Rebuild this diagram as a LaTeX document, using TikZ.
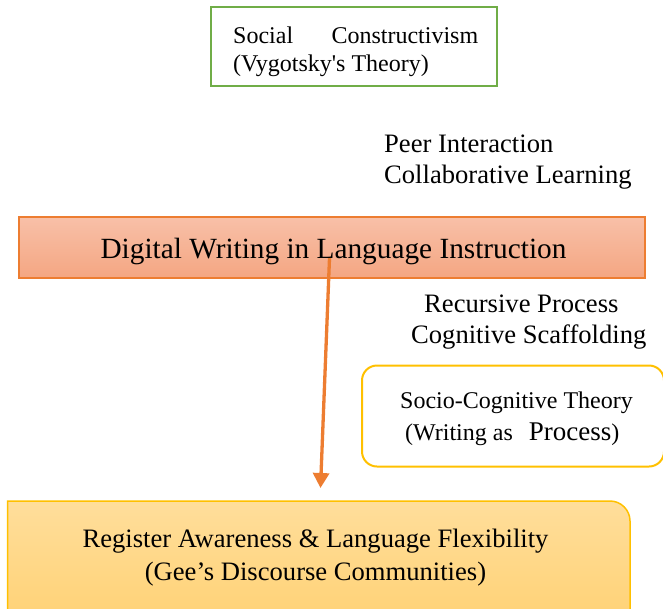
\documentclass[tikz,border=0pt]{standalone}
\usepackage{fontspec}
\setmainfont{Liberation Serif}[Ligatures=TeXOff]
\usetikzlibrary{arrows.meta}
\definecolor{grn}{HTML}{70AD47}
\definecolor{orn}{HTML}{ED7D31}
\definecolor{salmtop}{RGB}{248,192,168}
\definecolor{salmbot}{RGB}{244,166,130}
\definecolor{gold}{HTML}{FFC000}
\definecolor{goldtop}{RGB}{255,222,155}
\definecolor{goldbot}{RGB}{255,208,112}

\begin{document}
\begin{tikzpicture}[x=1pt,y=-1pt,
  txt/.style={inner sep=0pt, anchor=base west},
  txtc/.style={inner sep=0pt, anchor=base},
  big/.style={font=\fontsize{29.3}{35}\selectfont},
  mid/.style={font=\fontsize{26.6}{32}\selectfont},
  small/.style={font=\fontsize{24}{29}\selectfont},
  box/.style={inner sep=0pt}]
\useasboundingbox (0,0) rectangle (663,608);

% boxes
\node[box, draw=grn, line width=2.5pt, minimum width=286pt, minimum height=79pt] (sc) at (354,46.5) {};
\node[box, draw=orn, line width=1.2pt, top color=salmtop, bottom color=salmbot,
      minimum width=626pt, minimum height=61pt] (dw) at (332,247.5) {};
\node[box, draw=gold, line width=2pt, rounded corners=15pt,
      minimum width=302pt, minimum height=101pt] (sct) at (513,416) {};
\path[draw=gold, line width=1.5pt, top color=goldtop, bottom color=goldbot]
  (7.5,640) -- (7.5,501) -- (610,501) .. controls (621,501) and (630,510) .. (630,521) -- (630,640);

% connector
\coordinate (a1) at (329.5,258);
\coordinate (a2) at (320.5,488);
\draw[orn, line width=3.3pt, -{Triangle[width=16pt,length=15pt]}] (a1) -- (a2);

% texts
\node[txt, small] (sc1) at (233,43) {\makebox[245pt][s]{Social Constructivism}};
\node[txt, small] (sc2) at (233,71) {(Vygotsky's Theory)};
\node[txt, mid] (p1) at (384,152) {Peer Interaction};
\node[txt, mid] (p2) at (384,183.5) {Collaborative Learning};
\node[txtc, big] (dwt) at (333.5,258) {Digital Writing in Language Instruction};
\node[txt, mid] (r1) at (424,312.5) {Recursive Process};
\node[txt, mid] (r2) at (411,343) {Cognitive Scaffolding};
\node[txt, small] (s1) at (400,408.5) {Socio-Cognitive Theory};
\node[txt, small] (s2) at (405,440) {(Writing as\hspace{16pt}{\fontsize{27}{32}\selectfont Process})};
\node[txtc, mid] (g1) at (315.5,547.5) {Register Awareness \& Language Flexibility};
\node[txtc, mid] (g2) at (315.5,580) {(Gee’s Discourse Communities)};
\end{tikzpicture}
\end{document}
